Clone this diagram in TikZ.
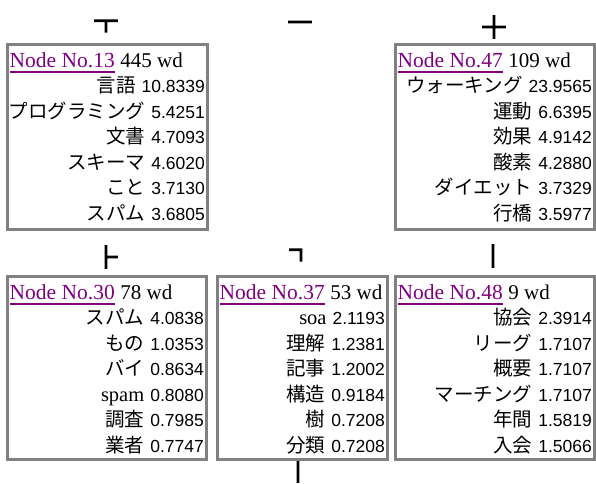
\documentclass[tikz,border=0pt]{standalone}
\usepackage{fontspec}
\usetikzlibrary{calc}
\setmainfont{Liberation Serif}
\newfontfamily\jpfont{Noto Sans CJK JP}
\newfontfamily\numfont{Liberation Sans}
\newfontfamily\boxglyphfont[FakeBold=8]{Noto Sans CJK JP}
\definecolor{linkc}{RGB}{128,0,128}
\definecolor{framegray}{RGB}{128,128,128}
\newcommand\jpw[1]{{\jpfont\fontsize{19.5}{19.5}\selectfont #1}}
\newcommand\numw[1]{{\numfont\fontsize{17.5}{17.5}\selectfont #1}}
\newcommand\serifw{\rmfamily\fontsize{20.5}{20.5}\selectfont}
\tikzset{
  cellframe/.style={draw=framegray, line width=2.5pt, inner sep=0pt, rectangle},
  linktext/.style={inner sep=0pt, text=linkc, font=\rmfamily\fontsize{21.5}{21.5}\selectfont},
  wdtext/.style={inner sep=0pt, text=black, font=\rmfamily\fontsize{21}{21}\selectfont},
  rowtext/.style={inner sep=0pt, text=black},
  glyph/.style={inner sep=0pt, text=black, font=\boxglyphfont\fontsize{22}{22}\selectfont},
}
\newcommand\cellbox[8]{%
  \node[cellframe, minimum width={#4-#2}, minimum height={#5-#3}, anchor=north west] (#1) at (#2,#3) {};
  \node[linktext, anchor=base west] (#1-l) at ($(#1.north west)+(3.5,24)$) {Node No.#6};
  \draw[linkc, line width=1.2pt] ([yshift=-5pt]#1-l.base west) -- ([yshift=-5pt]#1-l.base east);
  \node[wdtext, anchor=base west] (#1-w) at ([xshift=5.25pt]#1-l.base east) {#7 wd};
  \foreach \w/\n [count=\i] in {#8} {
    \node[rowtext, anchor=base east] (#1-r\i) at ($(#1.north east)+(-3.5,24+25.5*\i)$) {\jpw{\w}\hspace{6pt}\numw{\n}};
  }
}
\begin{document}
\begin{tikzpicture}[x=1pt, y=-1pt]
\fill[white] (0,0) rectangle (596,483);
\useasboundingbox (0,0) rectangle (596,483);
% connector glyphs
\node[glyph] (g1) at (106,26) {┬};
\node[glyph] (g2) at (300,26) {─};
\node[glyph] (g3) at (494,27) {┼};
\node[glyph] (g4) at (106,257) {├};
\node[glyph] (g5) at (301,255) {┐};
\node[glyph] (g6) at (493,256) {│};
\node[glyph] (g7) at (298,471) {│};
% cells
\cellbox{c13}{6}{43}{206}{228}{13}{445}{言語/10.8339, プログラミング/5.4251, 文書/4.7093, スキーマ/4.6020, こと/3.7130, スパム/3.6805}
\cellbox{c47}{394}{43}{593}{228}{47}{109}{ウォーキング/23.9565, 運動/6.6395, 効果/4.9142, 酸素/4.2880, ダイエット/3.7329, 行橋/3.5977}
\cellbox{c30}{6}{275}{205}{458}{30}{78}{スパム/4.0838, もの/1.0353, バイ/0.8634, {\serifw spam}/0.8080, 調査/0.7985, 業者/0.7747}
\cellbox{c37}{216}{275}{386}{458}{37}{53}{{\serifw soa}/2.1193, 理解/1.2381, 記事/1.2002, 構造/0.9184, 樹/0.7208, 分類/0.7208}
\cellbox{c48}{394}{275}{593}{458}{48}{9}{協会/2.3914, リーグ/1.7107, 概要/1.7107, マーチング/1.7107, 年間/1.5819, 入会/1.5066}
\end{tikzpicture}
\end{document}
